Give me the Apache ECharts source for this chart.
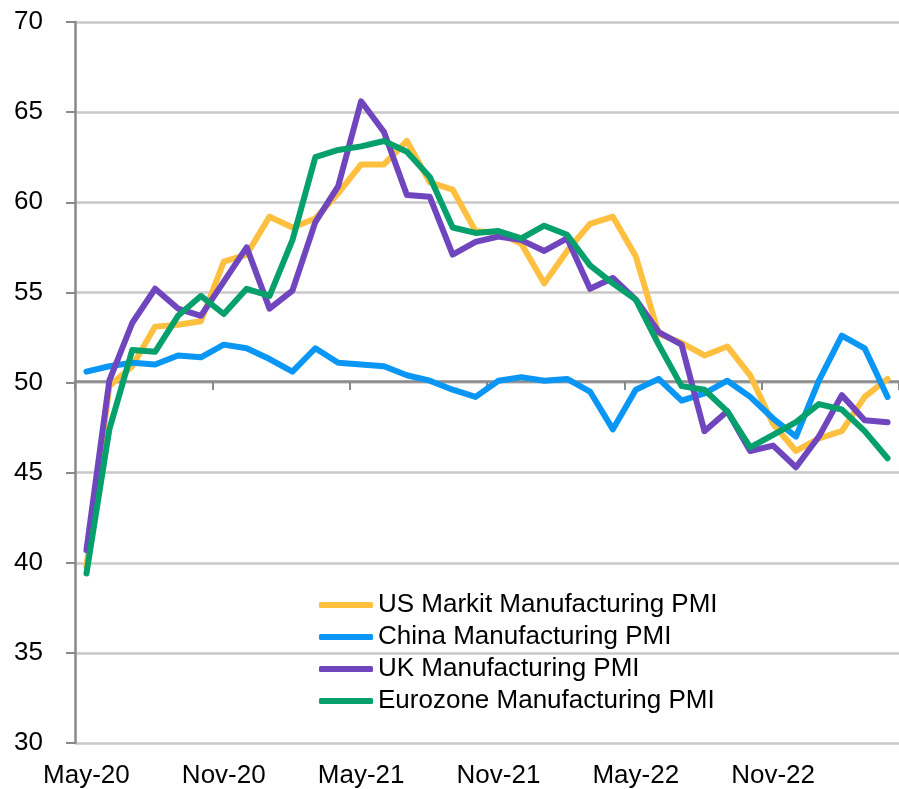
<!DOCTYPE html>
<html>
<head>
<meta charset="utf-8">
<script src="https://cdn.jsdelivr.net/npm/echarts@6/dist/echarts.min.js"></script>
<style>
  html, body { margin: 0; padding: 0; background: #fff; }
  #chart { width: 899px; height: 789px; }
</style>
</head>
<body>
<div id="chart"></div>
<script>
// monthly, May-20 .. Apr-23
const months = [
  "May-20", "Jun-20", "Jul-20", "Aug-20", "Sep-20", "Oct-20", "Nov-20", "Dec-20",
  "Jan-21", "Feb-21", "Mar-21", "Apr-21", "May-21", "Jun-21", "Jul-21", "Aug-21",
  "Sep-21", "Oct-21", "Nov-21", "Dec-21", "Jan-22", "Feb-22", "Mar-22", "Apr-22",
  "May-22", "Jun-22", "Jul-22", "Aug-22", "Sep-22", "Oct-22", "Nov-22", "Dec-22",
  "Jan-23", "Feb-23", "Mar-23", "Apr-23"
];

const usPmi = [
  39.8, 49.8, 50.9, 53.1, 53.2, 53.4, 56.7, 57.1, 59.2, 58.6, 59.1, 60.5,
  62.1, 62.1, 63.4, 61.1, 60.7, 58.4, 58.3, 57.7, 55.5, 57.3, 58.8, 59.2,
  57.0, 52.7, 52.2, 51.5, 52.0, 50.4, 47.7, 46.2, 46.9, 47.3, 49.2, 50.2
];
const chinaPmi = [
  50.6, 50.9, 51.1, 51.0, 51.5, 51.4, 52.1, 51.9, 51.3, 50.6, 51.9, 51.1,
  51.0, 50.9, 50.4, 50.1, 49.6, 49.2, 50.1, 50.3, 50.1, 50.2, 49.5, 47.4,
  49.6, 50.2, 49.0, 49.4, 50.1, 49.2, 48.0, 47.0, 50.1, 52.6, 51.9, 49.2
];
const ukPmi = [
  40.7, 50.1, 53.3, 55.2, 54.1, 53.7, 55.6, 57.5, 54.1, 55.1, 58.9, 60.9,
  65.6, 63.9, 60.4, 60.3, 57.1, 57.8, 58.1, 57.9, 57.3, 58.0, 55.2, 55.8,
  54.6, 52.8, 52.1, 47.3, 48.4, 46.2, 46.5, 45.3, 47.0, 49.3, 47.9, 47.8
];
const euroPmi = [
  39.4, 47.4, 51.8, 51.7, 53.7, 54.8, 53.8, 55.2, 54.8, 57.9, 62.5, 62.9,
  63.1, 63.4, 62.8, 61.4, 58.6, 58.3, 58.4, 58.0, 58.7, 58.2, 56.5, 55.5,
  54.6, 52.1, 49.8, 49.6, 48.4, 46.4, 47.1, 47.8, 48.8, 48.5, 47.3, 45.8
];

const seriesNames = [
  "US Markit Manufacturing PMI",
  "China Manufacturing PMI",
  "UK Manufacturing PMI",
  "Eurozone Manufacturing PMI"
];
const colors = ["#FFBF3F", "#0A96F5", "#6F46BE", "#05A06B"];

const font = "'Liberation Sans', Arial, sans-serif";
const axisGray = "#898989";

const chart = echarts.init(document.getElementById("chart"));

const gridTop = 22;
const gridBottom = 43;
const gridHeight = 789 - gridTop - gridBottom;

function lineSeries(name, data, color) {
  return {
    name: name,
    type: "line",
    data: data,
    color: color,
    symbol: "none",
    smooth: false,
    lineStyle: { width: 6, color: color, cap: "round", join: "round" },
    emphasis: { disabled: true },
  };
}

const option = {
  animation: false,
  textStyle: { fontFamily: font },
  grid: {
    left: 75,
    right: -3,
    top: gridTop,
    bottom: gridBottom,
    containLabel: false,
  },
  legend: {
    orient: "vertical",
    left: 314,
    top: 587,
    itemWidth: 54,
    itemHeight: 6,
    itemGap: 6,
    icon: "roundRect",
    textStyle: { fontSize: 26, color: "#000", fontFamily: font },
    data: seriesNames,
  },
  xAxis: [
    {
      type: "category",
      data: months,
      boundaryGap: true,
      axisLine: { show: false },
      axisTick: { show: false },
      axisLabel: {
        interval: 5,
        fontSize: 26,
        color: "#000",
        fontFamily: font,
        margin: 20,
      },
      splitLine: { show: false },
    },
    {
      // axis line drawn through the 50 level
      type: "category",
      data: months,
      boundaryGap: true,
      position: "bottom",
      offset: -gridHeight / 2,
      axisLine: { show: true, onZero: false, lineStyle: { color: axisGray, width: 2.5 } },
      axisTick: { show: true, interval: 5, length: 9, lineStyle: { color: axisGray, width: 2 } },
      axisLabel: { show: false },
      splitLine: { show: false },
    }
  ],
  yAxis: {
    type: "value",
    min: 30,
    max: 70,
    interval: 5,
    axisLine: { show: true, lineStyle: { color: axisGray, width: 2.5 } },
    axisTick: { show: true, length: 9, lineStyle: { color: axisGray, width: 2 } },
    axisLabel: { fontSize: 26, color: "#000", fontFamily: font, margin: 32 },
    splitLine: { show: true, lineStyle: { color: "#C8C8C8", width: 2.5 } },
  },
  series: [
    lineSeries(seriesNames[0], usPmi, colors[0]),
    lineSeries(seriesNames[1], chinaPmi, colors[1]),
    lineSeries(seriesNames[2], ukPmi, colors[2]),
    lineSeries(seriesNames[3], euroPmi, colors[3]),
  ],
};

chart.setOption(option);
</script>
</body>
</html>
